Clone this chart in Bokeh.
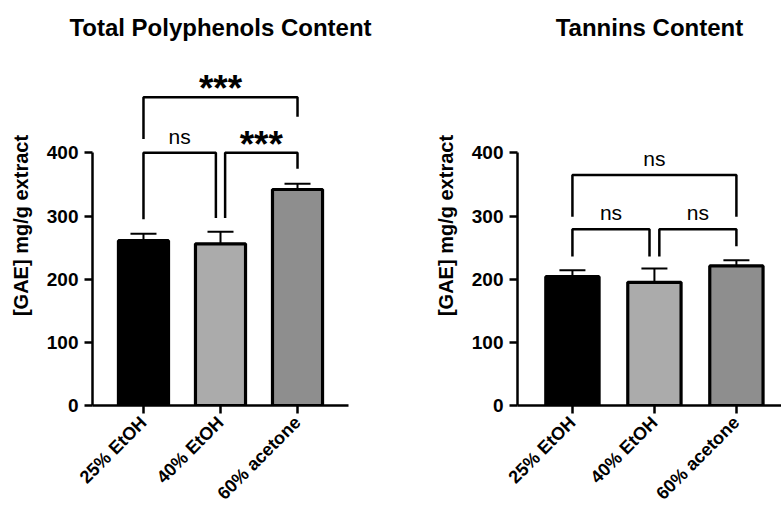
import math
from bokeh.plotting import figure
from bokeh.layouts import row
from bokeh.models import ColumnDataSource, Whisker, TeeHead, Range1d, FixedTicker
from bokeh.core.properties import value
from bokeh.embed import file_html
from bokeh.resources import INLINE

# ---------------- data ----------------
categories = ["25% EtOH", "40% EtOH", "60% acetone"]
bar_colors = ["#000000", "#ababab", "#8e8e8e"]

tpc_title = "Total Polyphenols Content"
tpc_mean = [261, 256, 342]
tpc_err = [11, 19, 9]

tan_title = "Tannins Content"
tan_mean = [204, 195, 221]
tan_err = [10, 22, 9]

y_label = "[GAE] mg/g extract"
y_ticks = [0, 100, 200, 300, 400]

# significance brackets: left group, right group, label
tpc_pairs = [(0, 1), (1, 2), (0, 2)]
tpc_labels = ["ns", "***", "***"]
tpc_bar_y = [400, 400, 488]
tpc_leg_end = [(295, 297), (297, 375), (422, 457)]

tan_pairs = [(0, 1), (1, 2), (0, 2)]
tan_labels = ["ns", "ns", "ns"]
tan_bar_y = [279, 279, 365]
tan_leg_end = [(236, 236), (236, 252), (299, 299)]

FONT = "Liberation Sans"
GAP = 0.06


def make_panel(title, means, errs, pairs, labels, bar_y, leg_end,
               width, x_start, x_end, border_left, border_right):
    p = figure(width=width, height=513, output_backend="svg", toolbar_location=None,
               x_range=Range1d(x_start, x_end), y_range=Range1d(0, 570),
               min_border_left=border_left, min_border_right=border_right,
               min_border_top=45, min_border_bottom=106, title=title)
    p.title.align = "center"
    p.title.text_font = FONT
    p.title.text_font_size = "24px"
    p.title.text_font_style = "bold"
    p.title.text_color = "black"
    p.outline_line_color = None
    p.grid.visible = False

    xs = list(range(len(categories)))
    src = ColumnDataSource(dict(x=xs, top=means, upper=[m + e for m, e in zip(means, errs)],
                                color=bar_colors))
    p.vbar(x="x", top="top", width=0.65, bottom=0, source=src, fill_color="color",
           line_color="black", line_width=3.2)
    p.add_layout(Whisker(base="x", lower="top", upper="upper", source=src,
                         line_color="black", line_width=2, lower_head=None,
                         upper_head=TeeHead(size=26, line_color="black", line_width=2)))

    # brackets
    bxs, bys = [], []
    for k, (a, b) in enumerate(pairs):
        xa, xb = float(a), float(b)
        for kk, (c, d) in enumerate(pairs):
            if kk != k and bar_y[kk] == bar_y[k]:
                if c == b:
                    xb -= GAP
                if d == a:
                    xa += GAP
        bxs.append([xa, xa, xb, xb])
        bys.append([leg_end[k][0], bar_y[k], bar_y[k], leg_end[k][1]])
        is_star = labels[k].startswith("*")
        tx = (xa + xb) / 2
        if is_star:
            p.text(x=[tx], y=[bar_y[k] + 14], text=[labels[k]], text_align="center",
                   text_baseline="alphabetic", text_font=value(FONT),
                   text_font_size="37px", text_font_style="bold", text_color="black")
        else:
            p.text(x=[tx], y=[bar_y[k] + 26], text=[labels[k]], text_align="center",
                   text_baseline="alphabetic", text_font=value(FONT),
                   text_font_size="21px", text_color="black")
    p.multi_line(xs=bxs, ys=bys, line_color="black", line_width=2.5)

    # axes
    p.yaxis.ticker = FixedTicker(ticks=y_ticks)
    p.yaxis.bounds = (0, 400)
    p.yaxis.axis_label = y_label
    p.xaxis.ticker = FixedTicker(ticks=xs)
    p.xaxis.major_label_overrides = {i: c for i, c in enumerate(categories)}
    p.xaxis.major_label_orientation = math.pi / 4
    for ax in (p.xaxis, p.yaxis):
        ax.axis_line_width = 2.5
        ax.axis_line_color = "black"
        ax.major_tick_line_width = 2.5
        ax.major_tick_line_color = "black"
        ax.major_tick_out = 8
        ax.major_tick_in = 0
        ax.minor_tick_line_color = None
        ax.major_label_text_font = FONT
        ax.major_label_text_font_style = "bold"
        ax.major_label_text_color = "black"
        ax.axis_label_text_font = FONT
        ax.axis_label_text_font_size = "20px"
        ax.axis_label_text_font_style = "bold"
        ax.axis_label_text_color = "black"
    p.yaxis.major_label_text_font_size = "19px"
    p.xaxis.major_label_text_font_size = "18px"
    p.yaxis.major_label_standoff = 6
    p.yaxis.axis_label_standoff = 12
    p.xaxis.major_label_standoff = 6
    return p


p1 = make_panel(tpc_title, tpc_mean, tpc_err, tpc_pairs, tpc_labels, tpc_bar_y, tpc_leg_end,
                390, -0.662, 2.662, 92, 42)
p2 = make_panel(tan_title, tan_mean, tan_err, tan_pairs, tan_labels, tan_bar_y, tan_leg_end,
                391, -0.67, 2.55, 127, 0)

layout = row(p1, p2)
open("out.html", "w").write(file_html(layout, INLINE))
